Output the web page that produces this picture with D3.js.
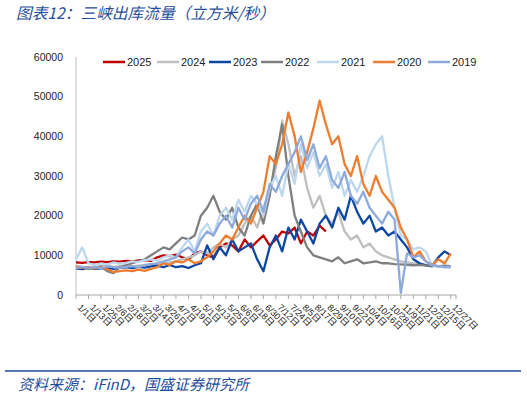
<!DOCTYPE html>
<html>
<head>
<meta charset="utf-8">
<script src="https://cdn.jsdelivr.net/npm/d3@7"></script>
<style>
  body { margin: 0; background: #fff; }
  svg { display: block; }
</style>
</head>
<body>
<div id="chart"></div>
<script>
// daily outflow sampled every 6 days from Jan 1 (day = i * 6)
const years = ["2025", "2024", "2023", "2022", "2021", "2020", "2019"];
const colors = ["#C00000", "#BFBFBF", "#0B47A3", "#7F7F7F", "#BDD7EE", "#ED7D31", "#8EA9DB"];

const s2025 = [8200, 8100, 8300, 8200, 8400, 8300, 8500, 8400, 8600, 8500, 8700, 8800, 8600, 9500, 10000, 9800, 10200, 9500, 9000, 10500, 11000, 10000, 9500, 12000, 13000, 12500, 11000, 14000, 12000, 13500, 15000, 12500, 14000, 16000, 15500, 17000, 13000, 16000, 15000, 17500, 16000];
const s2024 = [7300, 7100, 7000, 6900, 7200, 7400, 7100, 7300, 7500, 7200, 7400, 7600, 7800, 7500, 8000, 8200, 8500, 9000, 9500, 10000, 11000, 10500, 12000, 13000, 12000, 14000, 15000, 18000, 20000, 17000, 22000, 26000, 32000, 44000, 38000, 30000, 35000, 27000, 22000, 25000, 20000, 18000, 21000, 16000, 14000, 15000, 12000, 13000, 11000, 10000, 9500, 9000, 8500, 8200, 8000, 7800, 7600, 7400, 7200, 7100, 7000];
const s2023 = [6700, 6500, 6900, 6600, 6700, 6800, 6600, 6900, 7000, 6800, 7100, 6900, 7200, 7400, 7000, 7600, 7000, 7300, 6800, 7500, 8000, 12500, 9000, 12000, 10000, 14000, 11000, 12000, 13000, 9000, 6000, 12000, 15000, 11000, 17000, 14000, 19000, 16000, 13000, 18000, 20000, 17000, 22000, 19000, 25000, 21000, 18000, 20000, 16000, 17000, 15000, 16000, 14000, 12000, 9000, 8000, 7500, 7200, 9500, 11000, 10000];
const s2022 = [6700, 7000, 6600, 6900, 7200, 6000, 5500, 7000, 7500, 8000, 8500, 9000, 10000, 11000, 12000, 11500, 13000, 14500, 14000, 15000, 20000, 22000, 25000, 21000, 19000, 22000, 17000, 15000, 20000, 23000, 18000, 25000, 35000, 43000, 30000, 20000, 16000, 12000, 10000, 9500, 9000, 8500, 9500, 8000, 8500, 9000, 8000, 8200, 8500, 8000, 8000, 7800, 7700, 7600, 7500, 7600, 7400, 7500, 7300, 7400, 7300];
const s2021 = [9000, 12000, 8000, 7600, 8000, 7700, 8200, 7900, 8100, 8500, 8300, 8800, 9000, 8600, 9500, 10000, 9500, 12000, 14000, 11000, 16000, 18000, 15000, 20000, 22000, 19000, 24000, 21000, 25000, 23000, 20000, 27000, 30000, 25000, 33000, 28000, 38000, 32000, 36000, 30000, 33000, 27000, 31000, 25000, 29000, 26000, 30000, 35000, 38000, 40000, 30000, 22000, 15000, 14000, 11500, 12000, 11000, 7500, 7200, 7000, 7100];
const s2020 = [7200, 6900, 7100, 6700, 7000, 6500, 5800, 6000, 6200, 6000, 6400, 6100, 6600, 7000, 8000, 7600, 8500, 8200, 9000, 8000, 8500, 9500, 11000, 13000, 15000, 14000, 17000, 20000, 18000, 22000, 26000, 35000, 33000, 38000, 46000, 40000, 31000, 36000, 42000, 49000, 43000, 38000, 40000, 33000, 30000, 35000, 28000, 25000, 30000, 26000, 24000, 22000, 17000, 14000, 9500, 11000, 8500, 7500, 9000, 8000, 10500];
const s2019 = [6800, 7100, 6900, 7000, 6800, 7200, 7000, 6900, 7100, 7300, 7000, 7500, 7800, 8000, 8500, 9000, 9500, 11000, 12000, 10500, 14000, 16000, 15000, 18000, 20000, 17000, 22000, 19000, 23000, 25000, 21000, 28000, 26000, 30000, 33000, 36000, 40000, 34000, 38000, 32000, 35000, 29000, 27000, 31000, 25000, 23000, 26000, 22000, 20000, 18000, 21000, 19000, 500, 10500, 9500, 10000, 8500, 7500, 7200, 7000, 7100];

const seriesValues = [s2025, s2024, s2023, s2022, s2021, s2020, s2019];
const yTicks = [0, 10000, 20000, 30000, 40000, 50000, 60000];
// category labels every 12 days: 1/1, 1/13 ... 12/27
const xTickDays = d3.range(0, 361, 12);
const xTickLabels = xTickDays.map((d) => {
  const dt = new Date(2023, 0, 1 + d);
  return (dt.getMonth() + 1) + "/" + dt.getDate() + "日";
});

const W = 527, H = 398;
const svg = d3.select("#chart").append("svg").attr("width", W).attr("height", H);

const x = d3.scaleLinear().domain([0, 365]).range([76, 456]);
const y = d3.scaleLinear().domain([0, 60000]).range([295, 57]);

// title
svg.append("text")
  .attr("x", 16).attr("y", 19)
  .attr("font-family", "'Noto Sans CJK SC', sans-serif")
  .attr("font-size", 15.7).attr("font-style", "italic")
  .attr("fill", "#1F4E9C")
  .text("图表12：三峡出库流量（立方米/秒）");

// y axis
svg.append("g").selectAll("text").data(yTicks).enter().append("text")
  .attr("x", 63).attr("y", (d) => y(d)).attr("dy", "0.35em")
  .attr("text-anchor", "end")
  .attr("font-family", "'Liberation Sans', Arial, sans-serif")
  .attr("font-size", 10.5).attr("fill", "#222")
  .text((d) => d);

svg.append("line")
  .attr("x1", x(0)).attr("x2", x(0)).attr("y1", y(60000)).attr("y2", y(0))
  .attr("stroke", "#BFBFBF");

// x axis
const xAxis = svg.append("g");
xAxis.append("line")
  .attr("x1", x(0)).attr("x2", x(365)).attr("y1", y(0)).attr("y2", y(0))
  .attr("stroke", "#A6A6A6");
xAxis.selectAll(".tk").data(xTickDays.concat([365])).enter().append("line")
  .attr("x1", (d) => x(d)).attr("x2", (d) => x(d))
  .attr("y1", y(0)).attr("y2", y(0) + 4)
  .attr("stroke", "#A6A6A6");
xAxis.selectAll("text").data(xTickDays).enter().append("text")
  .attr("transform", (d) => "translate(" + (x(d) + 1) + "," + (y(0) + 13) + ") rotate(45)")
  .attr("font-family", "'Liberation Sans', 'Noto Sans CJK SC', sans-serif")
  .attr("font-size", 9).attr("fill", "#222")
  .text((d, i) => xTickLabels[i]);

// lines
const line = d3.line()
  .x((d, i) => x(i * 6))
  .y((d) => y(d));

svg.append("g").selectAll("path").data(seriesValues).enter().append("path")
  .attr("d", line)
  .attr("fill", "none")
  .attr("stroke", (d, i) => colors[i])
  .attr("stroke-width", 2.3)
  .attr("stroke-linejoin", "round");

// legend
const legendX = [103, 157, 209, 261, 317, 373, 428];
const legend = svg.append("g").selectAll("g").data(years).enter().append("g")
  .attr("transform", (d, i) => "translate(" + legendX[i] + ",62)");
legend.append("line")
  .attr("x1", 0).attr("x2", 22).attr("y1", 0).attr("y2", 0)
  .attr("stroke", (d, i) => colors[i]).attr("stroke-width", 2.5);
legend.append("text")
  .attr("x", 24).attr("dy", "0.35em")
  .attr("font-family", "'Liberation Sans', Arial, sans-serif")
  .attr("font-size", 11).attr("fill", "#222")
  .text((d) => d);

// footer
svg.append("line")
  .attr("x1", 5).attr("x2", 521).attr("y1", 371).attr("y2", 371)
  .attr("stroke", "#1F4E9C").attr("stroke-width", 1.5);
svg.append("text")
  .attr("x", 18).attr("y", 390)
  .attr("font-family", "'Noto Sans CJK SC', sans-serif")
  .attr("font-size", 15).attr("font-style", "italic")
  .attr("fill", "#1F4E9C")
  .text("资料来源：iFinD，国盛证券研究所");
</script>
</body>
</html>
